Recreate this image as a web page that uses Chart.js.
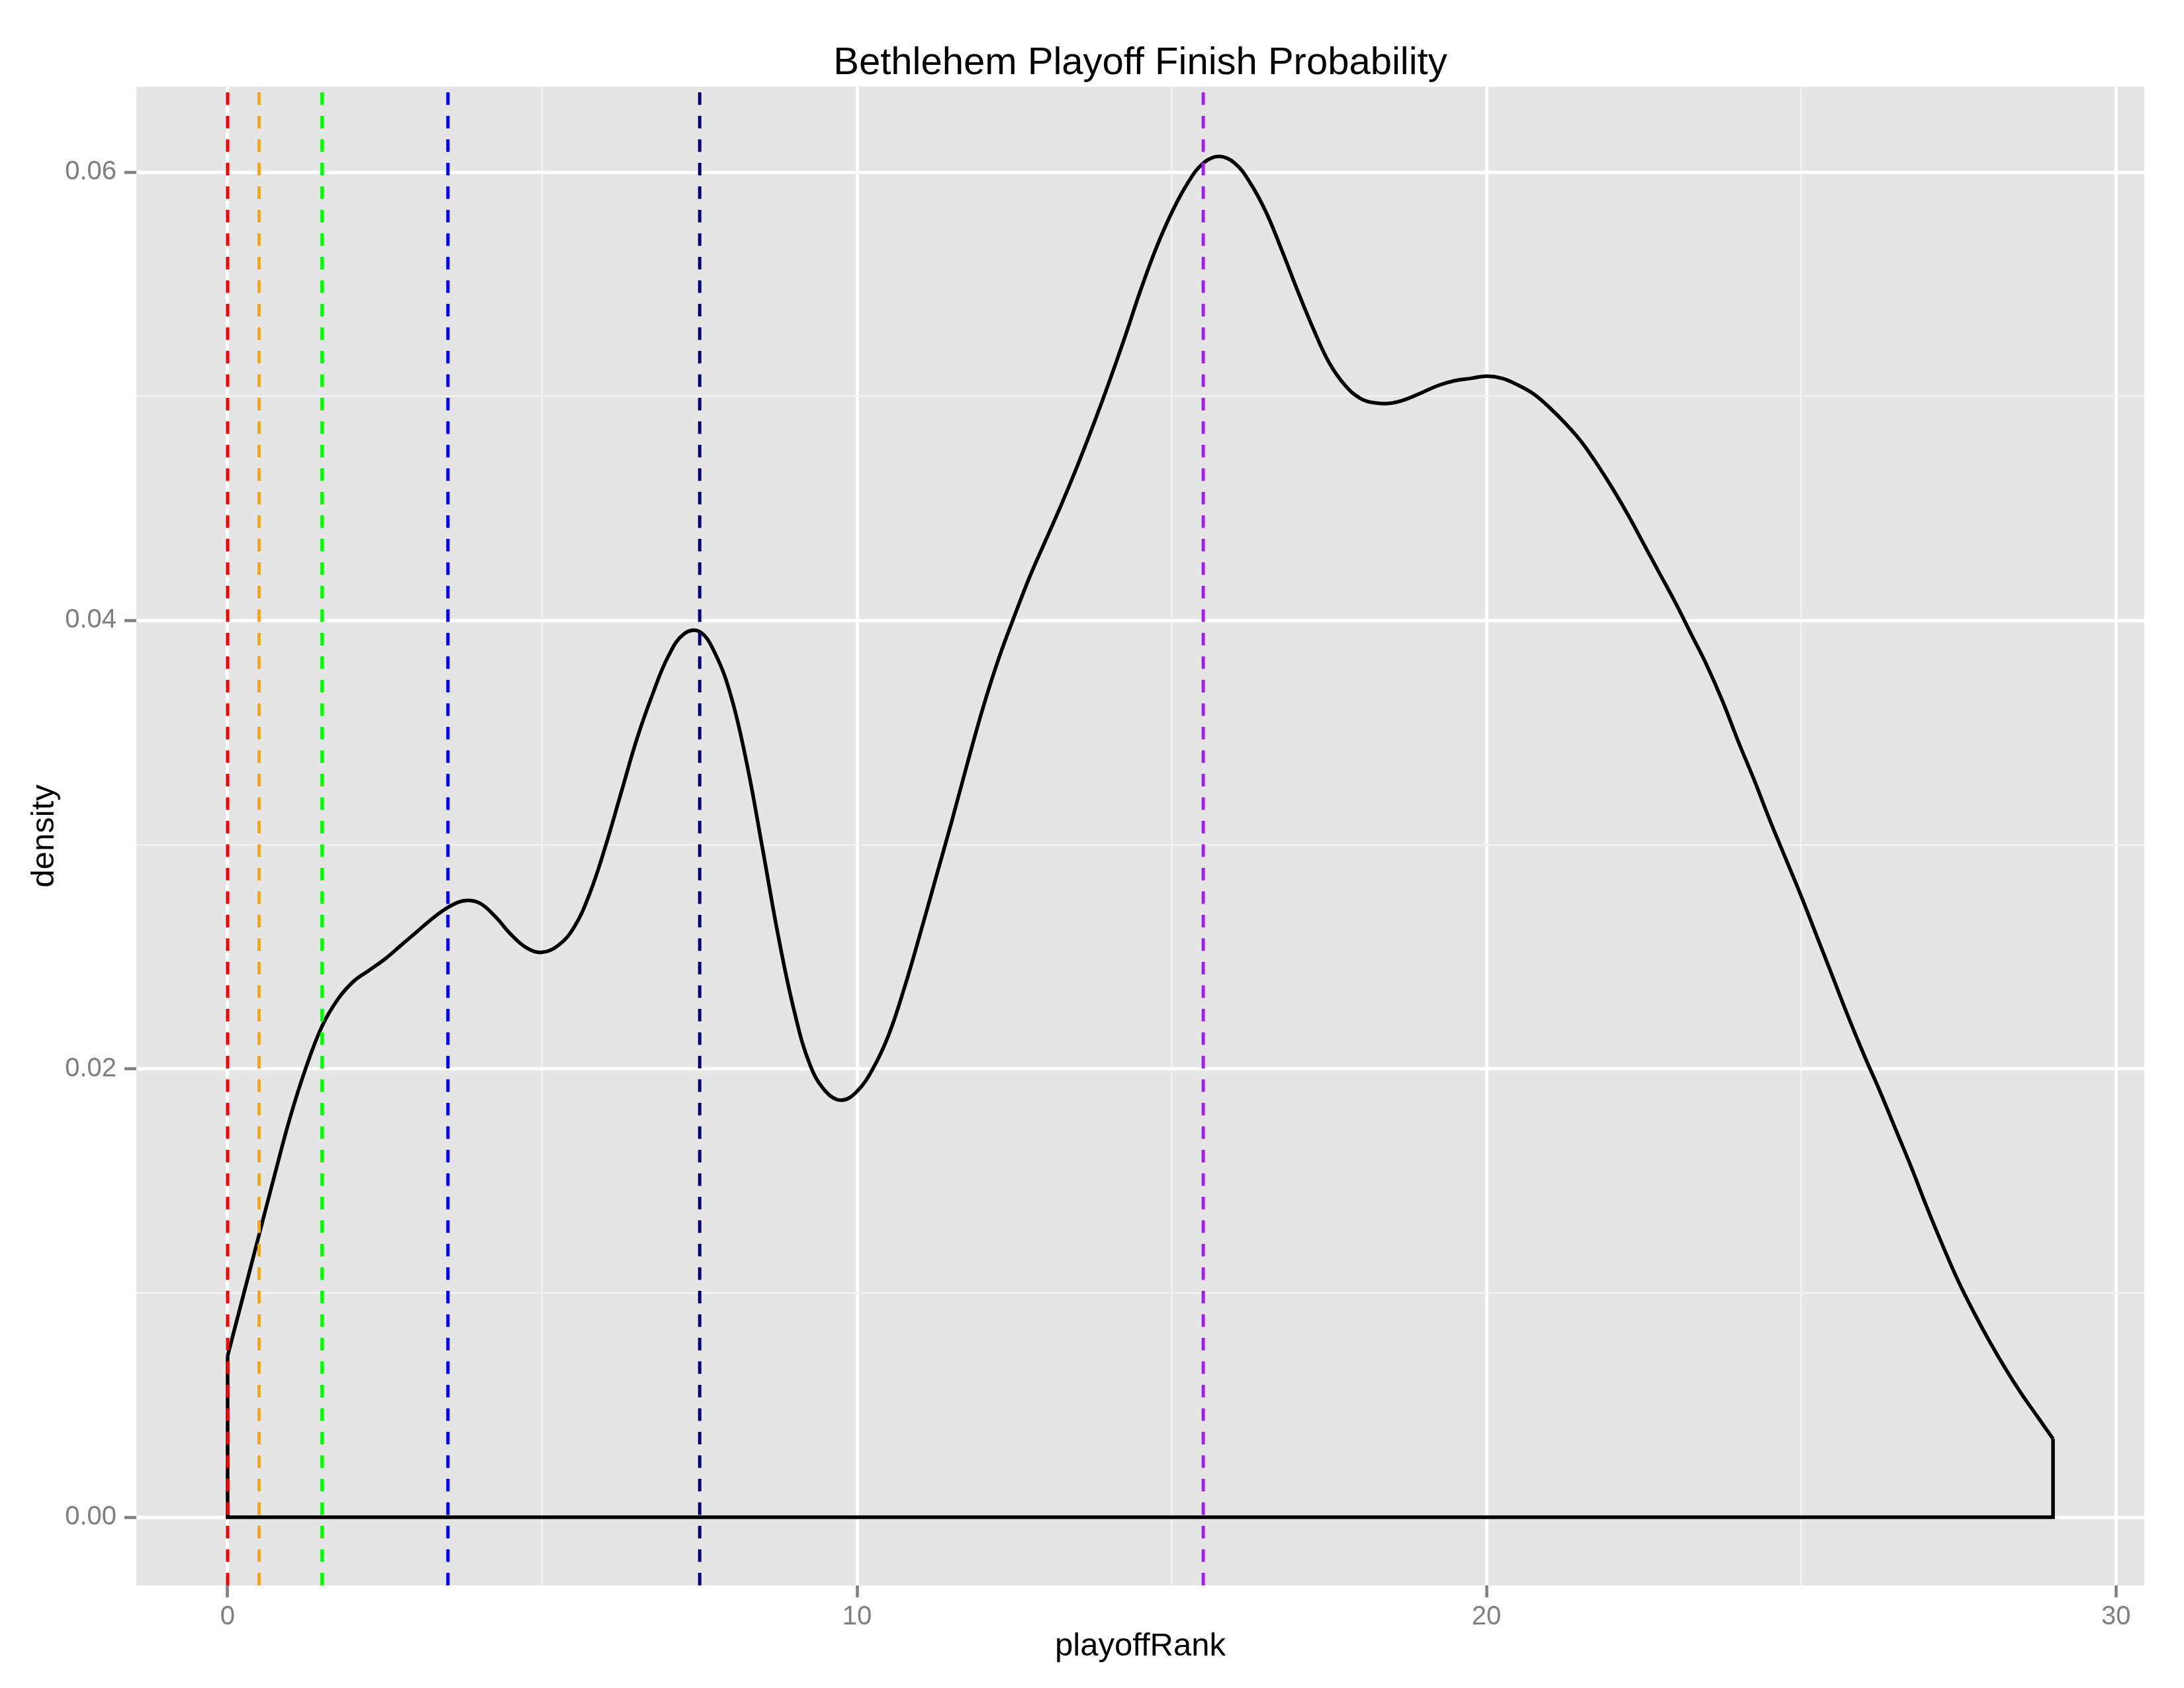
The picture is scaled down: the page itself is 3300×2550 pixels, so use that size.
<!DOCTYPE html>
<html>
<head>
<meta charset="utf-8">
<title>Bethlehem Playoff Finish Probability</title>
<script src="https://cdn.jsdelivr.net/npm/chart.js@4.4.1/dist/chart.umd.min.js"></script>
<style>
  html, body { margin: 0; padding: 0; background: #fff; }
  canvas { display: block; }
</style>
</head>
<body>
<canvas id="densityChart" width="3300" height="2550"></canvas>
<script>
const ranks = [
  0, 0.25, 0.5, 0.75, 1, 1.25, 1.5, 1.75, 2, 2.25, 2.5, 2.75,
  3, 3.25, 3.5, 3.75, 4, 4.25, 4.5, 4.75, 5, 5.25, 5.5, 5.75,
  6, 6.25, 6.5, 6.75, 7, 7.25, 7.5, 7.75, 8, 8.25, 8.5, 8.75,
  9, 9.25, 9.5, 9.75, 10, 10.25, 10.5, 10.75, 11, 11.25, 11.5, 11.75,
  12, 12.25, 12.5, 12.75, 13, 13.25, 13.5, 13.75, 14, 14.25, 14.5, 14.75,
  15, 15.25, 15.5, 15.75, 16, 16.25, 16.5, 16.75, 17, 17.25, 17.5, 17.75,
  18, 18.25, 18.5, 18.75, 19, 19.25, 19.5, 19.75, 20, 20.25, 20.5, 20.75,
  21, 21.25, 21.5, 21.75, 22, 22.25, 22.5, 22.75, 23, 23.25, 23.5, 23.75,
  24, 24.25, 24.5, 24.75, 25, 25.25, 25.5, 25.75, 26, 26.25, 26.5, 26.75,
  27, 27.25, 27.5, 27.75, 28, 28.25, 28.5, 28.75, 29
];

const density = [
  0.0072, 0.0099, 0.0126, 0.0153, 0.0179, 0.0201, 0.0219, 0.0231, 0.0239, 0.0244, 0.0249, 0.0255,
  0.0261, 0.0267, 0.0272, 0.0275, 0.0274, 0.0268, 0.0260, 0.0254, 0.0252, 0.0255, 0.0263, 0.0278,
  0.0299, 0.0323, 0.0347, 0.0367, 0.0384, 0.0394, 0.0395, 0.0385, 0.0366, 0.0336, 0.0298, 0.0259,
  0.0226, 0.0202, 0.0190, 0.0186, 0.0190, 0.0200, 0.0215, 0.0236, 0.0260, 0.0285, 0.0310, 0.0336,
  0.0361, 0.0383, 0.0402, 0.0420, 0.0436, 0.0452, 0.0469, 0.0487, 0.0506, 0.0526, 0.0547, 0.0566,
  0.0582, 0.0595, 0.0604, 0.0607, 0.0604, 0.0595, 0.0582, 0.0565, 0.0547, 0.0530, 0.0515, 0.0505,
  0.0499, 0.0497, 0.0497, 0.0499, 0.0502, 0.0505, 0.0507, 0.0508, 0.0509, 0.0508, 0.0505, 0.0501,
  0.0495, 0.0488, 0.0480, 0.0470, 0.0459, 0.0447, 0.0434, 0.0421, 0.0408, 0.0394, 0.0380, 0.0364,
  0.0346, 0.0329, 0.0311, 0.0294, 0.0277, 0.0259, 0.0241, 0.0223, 0.0206, 0.0190, 0.0173, 0.0156,
  0.0138, 0.0121, 0.0105, 0.0091, 0.0078, 0.0066, 0.0055, 0.0045, 0.0035
];

// dashed reference lines
const cutoffs = [0, 0.5, 1.5, 3.5, 7.5, 15.5];
const cutoffColors = ['#FF0000', '#FFA500', '#00FF00', '#0000FF', '#000080', '#A020F0'];

const xTicks = [0, 10, 20, 30];
const yTicks = [0, 0.02, 0.04, 0.06];

const X_MIN = -1.45, X_MAX = 30.45;
const Y_MIN = -0.00304, Y_MAX = 0.06381;

const FONT = 'Liberation Sans';

const isMajorX = v => xTicks.some(t => Math.abs(t - v) < 1e-9);
const isMajorY = v => yTicks.some(t => Math.abs(t - v) < 1e-9);

// grey panel behind the grid
const panelBackground = {
  id: 'panelBackground',
  beforeDraw(chart) {
    const { ctx, chartArea: a } = chart;
    ctx.save();
    ctx.fillStyle = '#E5E5E5';
    ctx.fillRect(a.left, a.top, a.width, a.height);
    ctx.restore();
  }
};

const last = ranks.length - 1;

const vlineSets = cutoffs.map((c, i) => ({
  data: [{ x: c, y: Y_MIN }, { x: c, y: Y_MAX }],
  borderColor: cutoffColors[i],
  borderWidth: 5,
  borderDash: [19, 16.5],
  pointRadius: 0,
  tension: 0,
  order: 0
}));

const curveSet = {
  data: ranks.map((r, i) => ({ x: r, y: density[i] })),
  borderColor: '#000000',
  borderWidth: 5.5,
  pointRadius: 0,
  tension: 0.4,
  borderJoinStyle: 'round',
  order: 1
};

// closes the density polygon down to zero
const outlineSet = {
  data: [
    { x: ranks[0], y: density[0] },
    { x: ranks[0], y: 0 },
    { x: ranks[last], y: 0 },
    { x: ranks[last], y: density[last] }
  ],
  borderColor: '#000000',
  borderWidth: 5.5,
  pointRadius: 0,
  tension: 0,
  borderJoinStyle: 'miter',
  order: 1
};

new Chart(document.getElementById('densityChart'), {
  type: 'line',
  data: { datasets: [...vlineSets, curveSet, outlineSet] },
  plugins: [panelBackground],
  options: {
    responsive: false,
    devicePixelRatio: 1,
    animation: false,
    layout: { padding: { left: 0, top: 0, right: 60, bottom: 0 } },
    plugins: {
      legend: { display: false },
      tooltip: { enabled: false },
      title: {
        display: true,
        text: 'Bethlehem Playoff Finish Probability',
        color: '#000000',
        fullSize: false,
        font: { family: FONT, size: 58, weight: 'normal', lineHeight: 1 },
        padding: { top: 67, bottom: 6 }
      }
    },
    scales: {
      x: {
        type: 'linear',
        min: X_MIN,
        max: X_MAX,
        afterFit: s => { s.height = 155; },
        border: { display: false },
        grid: {
          color: c => (c.tick && isMajorX(c.tick.value)) ? '#FFFFFF' : '#F2F2F2',
          lineWidth: c => (c.tick && isMajorX(c.tick.value)) ? 5 : 2.5,
          tickColor: c => (c.tick && isMajorX(c.tick.value)) ? '#7F7F7F' : 'rgba(0,0,0,0)',
          tickWidth: 4.5,
          tickLength: 18
        },
        ticks: {
          stepSize: 5,
          includeBounds: false,
          autoSkip: false,
          maxRotation: 0,
          padding: 6,
          color: '#7F7F7F',
          font: { family: FONT, size: 40 },
          callback: v => isMajorX(v) ? String(v) : ''
        },
        title: {
          display: true,
          text: 'playoffRank',
          color: '#000000',
          font: { family: FONT, size: 49 },
          padding: { top: 0, bottom: 33 }
        }
      },
      y: {
        type: 'linear',
        min: Y_MIN,
        max: Y_MAX,
        afterFit: s => { s.width = 206; },
        border: { display: false },
        grid: {
          color: c => (c.tick && isMajorY(c.tick.value)) ? '#FFFFFF' : '#F2F2F2',
          lineWidth: c => (c.tick && isMajorY(c.tick.value)) ? 5 : 2.5,
          tickColor: c => (c.tick && isMajorY(c.tick.value)) ? '#7F7F7F' : 'rgba(0,0,0,0)',
          tickWidth: 4.5,
          tickLength: 18
        },
        ticks: {
          stepSize: 0.01,
          includeBounds: false,
          autoSkip: false,
          padding: 12,
          color: '#7F7F7F',
          font: { family: FONT, size: 40 },
          callback: v => isMajorY(v) ? v.toFixed(2) : ''
        },
        title: {
          display: true,
          text: 'density',
          color: '#000000',
          font: { family: FONT, size: 49 },
          padding: { top: 38, bottom: 0 }
        }
      }
    }
  }
});
</script>
</body>
</html>
